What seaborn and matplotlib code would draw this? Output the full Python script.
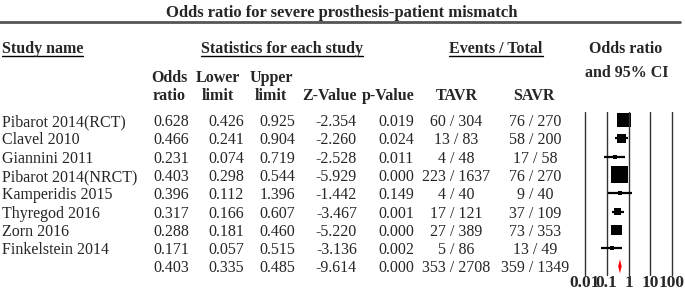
#! /usr/bin/env python3
# imports
import matplotlib
matplotlib.use('Agg')
import matplotlib.pyplot as plt
from matplotlib.ticker import NullLocator
import numpy as np
import pandas as pd
import seaborn as sns

# data
studies = ['Pibarot 2014(RCT)', 'Clavel 2010', 'Giannini 2011', 'Pibarot 2014(NRCT)',
           'Kamperidis 2015', 'Thyregod 2016', 'Zorn 2016', 'Finkelstein 2014']
odds_ratio = [0.628, 0.466, 0.231, 0.403, 0.396, 0.317, 0.288, 0.171]
lower_limit = [0.426, 0.241, 0.074, 0.298, 0.112, 0.166, 0.181, 0.057]
upper_limit = [0.925, 0.904, 0.719, 0.544, 1.396, 0.607, 0.460, 0.515]
z_value = [-2.354, -2.260, -2.528, -5.929, -1.442, -3.467, -5.220, -3.136]
p_value = [0.019, 0.024, 0.011, 0.000, 0.149, 0.001, 0.000, 0.002]
tavr_events = [60, 13, 4, 223, 4, 17, 27, 5]
tavr_total = [304, 83, 48, 1637, 40, 121, 389, 86]
savr_events = [76, 58, 17, 76, 9, 37, 73, 13]
savr_total = [270, 200, 58, 270, 40, 109, 353, 49]
weight = [13.5, 8.5, 4, 17, 4, 7, 10.5, 4.5]  # relative box size

pooled_or, pooled_lo, pooled_hi = 0.403, 0.335, 0.485
pooled_z, pooled_p = -9.614, 0.000
pooled_tavr = (353, 2708)
pooled_savr = (359, 1349)

ticks = [0.01, 0.1, 1, 10, 100]
tick_labels = ['0.01', '0.1', '1', '10', '100']

# settings
sns.set_style('white')
plt.rcParams['font.family'] = ['Liberation Serif', 'DejaVu Serif']
FS = 11.5

fig = plt.figure(figsize=(6.85, 2.92), dpi=100)
ax0 = fig.add_axes([0, 0, 1, 1])
ax0.set_xlim(0, 685)
ax0.set_ylim(292, 0)
ax0.axis('off')


def txt(x, y, s, ha='center', bold=False, size=FS):
    return ax0.text(x, y, s, ha=ha, va='baseline', fontsize=size,
                    fontweight='bold' if bold else 'normal')


# title and rule
txt(342, 17, 'Odds ratio for severe prosthesis-patient mismatch', bold=True, size=12)
ax0.plot([0, 680], [21.5, 21.5], color='#555555', lw=2)

# headers
underlined = [txt(2, 53, 'Study name', ha='left', bold=True),
              txt(282, 53, 'Statistics for each study', bold=True),
              txt(496, 53, 'Events / Total', bold=True)]
txt(626, 53, 'Odds ratio', bold=True)
txt(627, 77, 'and 95% CI', bold=True)

for cx, (a, b) in zip([169, 218, 271], [('Odds', 'ratio'), ('Lower', 'limit'), ('Upper', 'limit')]):
    txt(cx, 82, a, bold=True)
    txt(cx, 100, b, bold=True)
for cx, lab in zip([330, 388, 457, 534], ['Z-Value', 'p-Value', 'TAVR', 'SAVR']):
    txt(cx, 100, lab, bold=True)

# rows
BASE0, DY = 126, 18.3
num_right = [189, 244, 295, 357, 414]
for i, name in enumerate(studies):
    y = BASE0 + i * DY
    txt(2, y, name, ha='left')
    vals = [odds_ratio[i], lower_limit[i], upper_limit[i], z_value[i], p_value[i]]
    for xr, v in zip(num_right, vals):
        txt(xr, y, f'{v:.3f}', ha='right')
    txt(456, y, f'{tavr_events[i]} / {tavr_total[i]}')
    txt(535, y, f'{savr_events[i]} / {savr_total[i]}')

y = BASE0 + len(studies) * DY
for xr, v in zip(num_right, [pooled_or, pooled_lo, pooled_hi, pooled_z, pooled_p]):
    txt(xr, y, f'{v:.3f}', ha='right')
txt(456, y, f'{pooled_tavr[0]} / {pooled_tavr[1]}')
txt(535, y, f'{pooled_savr[0]} / {pooled_savr[1]}')

# underline headers
fig.canvas.draw()
r = fig.canvas.get_renderer()
inv = ax0.transData.inverted()
for t in underlined:
    bb = t.get_window_extent(r)
    (x0, _), (x1, _) = inv.transform([[bb.x0, bb.y0], [bb.x1, bb.y0]])
    ax0.plot([x0, x1], [56, 56], color='black', lw=1)

# forest plot
n = len(studies)
ROW0 = 120
top_px, bot_px, left_px, right_px = 112, 275, 585, 672
axf = fig.add_axes([left_px / 685, (292 - bot_px) / 292, (right_px - left_px) / 685, (bot_px - top_px) / 292])
axf.set_xscale('log')
axf.set_xlim(0.01, 100)
axf.set_ylim((bot_px - ROW0) / DY, (top_px - ROW0) / DY)
axf.patch.set_alpha(0)
for s in axf.spines.values():
    s.set_visible(False)
for t in ticks:
    axf.axvline(t, color='#333333', lw=1, clip_on=False)

df = pd.DataFrame({'row': np.arange(n), 'or': odds_ratio, 'lo': lower_limit, 'hi': upper_limit, 'w': weight})
axf.hlines(df['row'], df['lo'], df['hi'], color='black', lw=1.6)
sns.scatterplot(data=df, x='or', y='row', marker='s', color='black', s=(df['w'] * 0.72) ** 2,
                linewidth=0, legend=False, ax=axf)
h = 7 / DY
axf.fill([pooled_lo, pooled_or, pooled_hi, pooled_or], [n, n - h, n, n + h], color='red', lw=0)

axf.set_xticks(ticks)
axf.set_xticklabels(tick_labels, fontsize=12.5, fontweight='bold')
axf.xaxis.set_minor_locator(NullLocator())
axf.tick_params(axis='x', length=0, pad=0)
axf.set_yticks([])
axf.set_xlabel('')
axf.set_ylabel('')

fig.savefig('out.png', dpi=100)
plt.close()
